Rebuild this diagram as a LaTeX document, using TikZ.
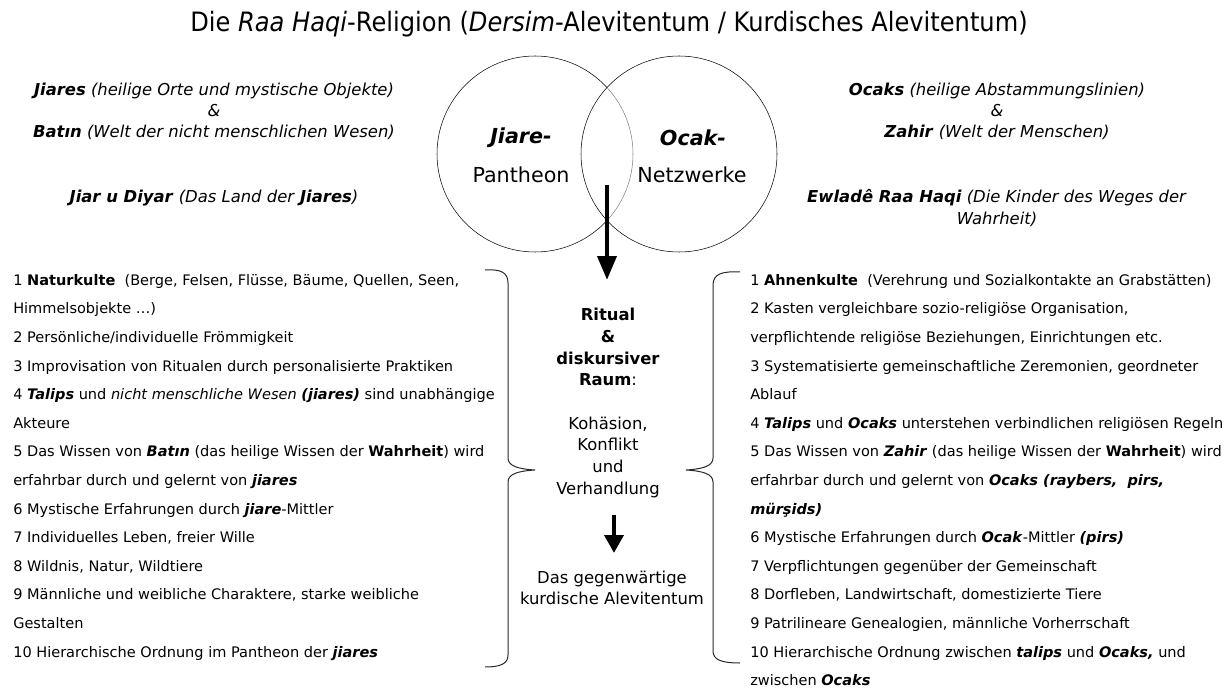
\documentclass[tikz,border=0pt]{standalone}
\usepackage{fontspec}
\setmainfont{DejaVu Sans}
\usepackage{tikz}
\usetikzlibrary{calc, positioning}
\usetikzlibrary{arrows.meta}
\newcommand{\kbi}[1]{\textbf{\textit{#1}}}
\tikzset{
	listtext/.style={anchor=north west, inner sep=0.75pt, align=left, font=\fontsize{10.9}{21.45}\selectfont},
	headtext/.style={inner sep=0.75pt, align=center, font=\fontsize{12.3}{15.8}\selectfont},
	centertext/.style={inner sep=0.75pt, align=center, font=\fontsize{12.3}{16.3}\selectfont},
	circtext/.style={inner sep=0.75pt, font=\fontsize{15.5}{18}\selectfont},
	bigarrow/.style={line width=3.5, -{Triangle[width=14pt,length=18pt]}},
	smallarrow/.style={line width=3.5, -{Triangle[width=14pt,length=13.5pt]}},
	bracket/.style={line width=0.75, color={rgb, 255:red, 40; green, 40; blue, 40 }},
}

\begin{document}
\begin{tikzpicture}[x=0.75pt,y=0.75pt,yscale=-1,xscale=1]
	\useasboundingbox (0,0) rectangle (1232,688);

	% Text Node
	\draw (609,24) node (title) [inner sep=0.75pt] {\scalebox{0.905}[1]{\fontsize{20}{24}\selectfont Die \textit{Raa Haqi}-Religion (\textit{Dersim}-Alevitentum / Kurdisches Alevitentum)}};

	%Shape: Circle [Jiare]
	\draw  (535,154) circle (98) ;
	%Shape: Circle [Ocak]
	\draw  [fill=white, fill opacity=0.5] (679,154) circle (98) ;

	% Text Node
	\draw (521,138) node (jiarelbl) [circtext] {\kbi{Jiare-}};
	% Text Node
	\draw (521,175) node (pantheon) [circtext] {Pantheon};
	% Text Node
	\draw (693,138) node (ocaklbl) [circtext] {\kbi{Ocak-}};
	% Text Node
	\draw (692,175) node (netzwerke) [circtext] {Netzwerke};

	% Text Node
	\draw (214,111) node (jiarestop) [headtext] {\kbi{Jiares} \textit{(heilige Orte und mystische Objekte)}\\ \textit{\&}\\ \kbi{Batın} \textit{(Welt der nicht menschlichen Wesen)}};
	% Text Node
	\draw (214,198) node (jiardiyar) [headtext] {\kbi{Jiar\ u\ Diyar} \textit{(Das Land der} \kbi{Jiares}\textit{)}};
	% Text Node
	\draw (997,111) node (ocakstop) [headtext] {\kbi{Ocaks} \textit{(heilige Abstammungslinien)}\\ \textit{\&}\\ \kbi{Zahir} \textit{(Welt der Menschen)}};
	% Text Node
	\draw (997,208) node (ewlade) [headtext] {\kbi{Ewladê\ Raa\ Haqi} \textit{(Die Kinder des Weges der}\\ \textit{Wahrheit)}};

	%Straight Lines [arrow into ritual space]
	\coordinate (arrAtop) at (607,185);
	\coordinate (arrAbot) at (607,280);
	\draw [bigarrow] (arrAtop) -- (arrAbot);

	% Text Node
	\draw (12,273) node (jiarelist) [listtext] {1 \textbf{Naturkulte}\ \ (Berge, Felsen, Flüsse, Bäume, Quellen, Seen,\\
		Himmelsobjekte …)\\
		2 Persönliche/individuelle Frömmigkeit\\
		3 Improvisation von Ritualen durch personalisierte Praktiken\\
		4 \kbi{Talips} und \textit{nicht menschliche Wesen} \kbi{(jiares)} sind unabhängige\\
		Akteure\\
		5 Das Wissen von \kbi{Batın} (das heilige Wissen der \textbf{Wahrheit}) wird\\
		erfahrbar durch und gelernt von \kbi{jiares}\\
		6 Mystische Erfahrungen durch \kbi{jiare}-Mittler\\
		7 Individuelles Leben, freier Wille\\
		8 Wildnis, Natur, Wildtiere\\
		9 Männliche und weibliche Charaktere, starke weibliche\\
		Gestalten\\
		10 Hierarchische Ordnung im Pantheon der \kbi{jiares}};

	% Text Node
	\draw (749,273) node (ocaklist) [listtext] {1 \textbf{Ahnenkulte}\ \ (Verehrung und Sozialkontakte an Grabstätten)\\
		2 Kasten vergleichbare sozio-religiöse Organisation,\\
		verpflichtende religiöse Beziehungen, Einrichtungen etc.\\
		3 Systematisierte gemeinschaftliche Zeremonien, geordneter\\
		Ablauf\\
		4 \kbi{Talips} und \kbi{Ocaks} unterstehen verbindlichen religiösen Regeln\\
		5 Das Wissen von \kbi{Zahir} (das heilige Wissen der \textbf{Wahrheit}) wird\\
		erfahrbar durch und gelernt von \kbi{Ocaks (raybers,\ \ pirs,}\\
		\kbi{mürşids)}\\
		6 Mystische Erfahrungen durch \kbi{Ocak}-Mittler \kbi{(pirs)}\\
		7 Verpflichtungen gegenüber der Gemeinschaft\\
		8 Dorfleben, Landwirtschaft, domestizierte Tiere\\
		9 Patrilineare Genealogien, männliche Vorherrschaft\\
		10 Hierarchische Ordnung zwischen \kbi{talips} und \kbi{Ocaks,}\ und\\
		zwischen \kbi{Ocaks}};

	%Curve Lines [left brace]
	\draw [bracket] (485,270) .. controls (500,269) and (508,272) .. (508,283) -- (508,458) .. controls (508,466) and (518,469) .. (535,470) .. controls (518,471) and (508,474) .. (508,482) -- (508,655) .. controls (508,664) and (500,667) .. (485,667) ;
	%Curve Lines [right brace]
	\draw [bracket] (740,272) .. controls (722,271) and (713,274) .. (713,285) -- (713,458) .. controls (713,466) and (703,469) .. (686,470) .. controls (703,471) and (713,474) .. (713,482) -- (713,651) .. controls (713,660) and (722,663) .. (740,663) ;

	% Text Node
	\draw (608,403) node (ritual) [centertext] {\textbf{Ritual}\\ \textbf{\&}\\ \textbf{diskursiver}\\ \textbf{Raum}:\\[16.3pt] Kohäsion,\\ Konflikt\\ und\\ Verhandlung};

	%Straight Lines [arrow to present]
	\coordinate (arrBtop) at (614,515);
	\coordinate (arrBbot) at (614,553);
	\draw [smallarrow] (arrBtop) -- (arrBbot);

	% Text Node
	\draw (612,588) node (gegenwart) [centertext] {Das gegenwärtige\\ kurdische Alevitentum};

\end{tikzpicture}
\end{document}
